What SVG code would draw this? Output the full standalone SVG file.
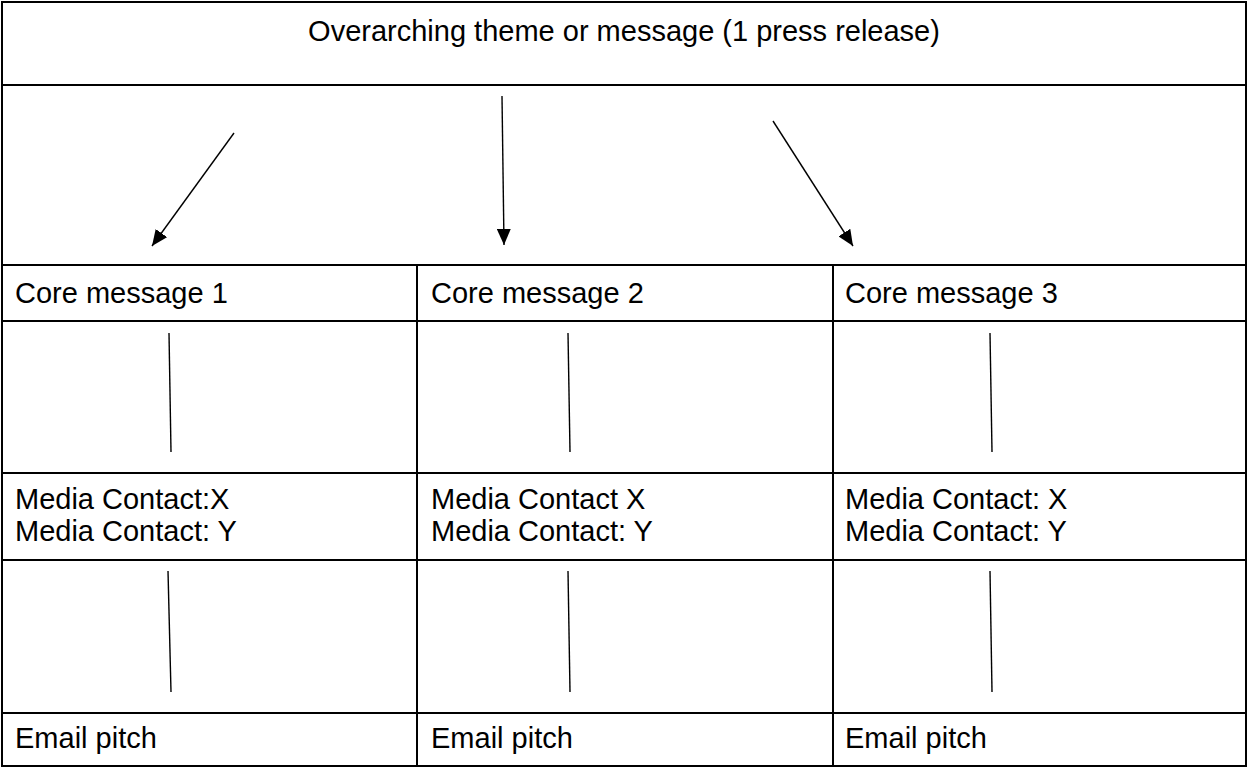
<svg xmlns="http://www.w3.org/2000/svg" width="1247" height="768" viewBox="0 0 1247 768">
<style>
.cell{fill:#fff;stroke:#000;stroke-width:2}
.lbl{font-family:"Liberation Sans",Arial,sans-serif;font-size:29px;fill:#000}
.conn{stroke:#000;stroke-width:1.4;fill:none}
</style>
<defs>
<marker id="ah" viewBox="0 0 16 14" refX="16" refY="7" markerWidth="16" markerHeight="14" markerUnits="userSpaceOnUse" orient="auto">
<path d="M0,0 L16,7 L0,14 Z" fill="#000"/>
</marker>
</defs>
<rect x="0" y="0" width="1247" height="768" fill="#fff"/>
<g id="title"><rect class="cell" x="2" y="2" width="1244" height="83"/><text class="lbl" x="624" y="41" text-anchor="middle">Overarching theme or message (1 press release)</text></g>
<g id="arrow-area"><rect class="cell" x="2" y="85" width="1244" height="180"/></g>
<g id="core1"><rect class="cell" x="2" y="265" width="415" height="56"/><text class="lbl" x="15" y="303">Core message 1</text></g>
<g id="core2"><rect class="cell" x="417" y="265" width="416" height="56"/><text class="lbl" x="431" y="303">Core message 2</text></g>
<g id="core3"><rect class="cell" x="833" y="265" width="413" height="56"/><text class="lbl" x="845" y="303">Core message 3</text></g>
<g id="gap1a"><rect class="cell" x="2" y="321" width="415" height="152"/></g>
<g id="gap2a"><rect class="cell" x="417" y="321" width="416" height="152"/></g>
<g id="gap3a"><rect class="cell" x="833" y="321" width="413" height="152"/></g>
<g id="media1"><rect class="cell" x="2" y="473" width="415" height="87"/><text class="lbl" x="15" y="509">Media Contact:X</text><text class="lbl" x="15" y="541">Media Contact: Y</text></g>
<g id="media2"><rect class="cell" x="417" y="473" width="416" height="87"/><text class="lbl" x="431" y="509">Media Contact X</text><text class="lbl" x="431" y="541">Media Contact: Y</text></g>
<g id="media3"><rect class="cell" x="833" y="473" width="413" height="87"/><text class="lbl" x="845" y="509">Media Contact: X</text><text class="lbl" x="845" y="541">Media Contact: Y</text></g>
<g id="gap1b"><rect class="cell" x="2" y="560" width="415" height="153"/></g>
<g id="gap2b"><rect class="cell" x="417" y="560" width="416" height="153"/></g>
<g id="gap3b"><rect class="cell" x="833" y="560" width="413" height="153"/></g>
<g id="email1"><rect class="cell" x="2" y="713" width="415" height="53"/><text class="lbl" x="15" y="748">Email pitch</text></g>
<g id="email2"><rect class="cell" x="417" y="713" width="416" height="53"/><text class="lbl" x="431" y="748">Email pitch</text></g>
<g id="email3"><rect class="cell" x="833" y="713" width="413" height="53"/><text class="lbl" x="845" y="748">Email pitch</text></g>
<g id="connectors">
<line class="conn" x1="234" y1="133" x2="152" y2="246" marker-end="url(#ah)"/>
<line class="conn" x1="502" y1="96" x2="504" y2="245" marker-end="url(#ah)"/>
<line class="conn" x1="773" y1="121" x2="853" y2="246" marker-end="url(#ah)"/>
<line class="conn" x1="169" y1="333" x2="171" y2="452"/>
<line class="conn" x1="568" y1="333" x2="570" y2="452"/>
<line class="conn" x1="990" y1="333" x2="992" y2="452"/>
<line class="conn" x1="168" y1="571" x2="171" y2="692"/>
<line class="conn" x1="568" y1="571" x2="570" y2="692"/>
<line class="conn" x1="990" y1="571" x2="992" y2="692"/>
</g>
</svg>
